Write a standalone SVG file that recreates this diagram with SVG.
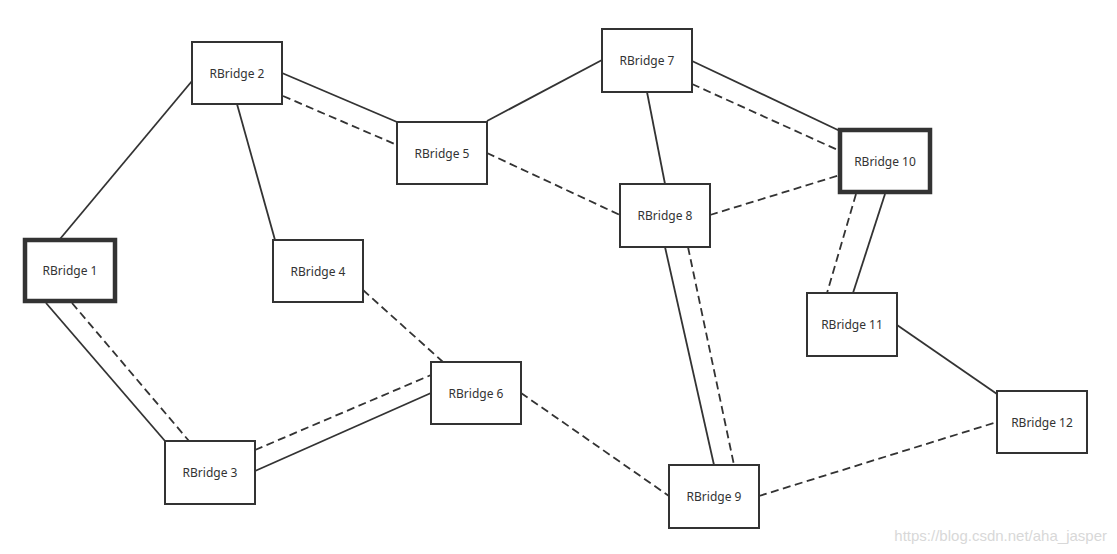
<svg xmlns="http://www.w3.org/2000/svg" width="1117" height="554" viewBox="0 0 1117 554">
<style>
.n rect{fill:#fff;stroke:#333;stroke-width:2}
.n.t rect{stroke-width:4.5}
.n text{font-family:"Noto Sans","DejaVu Sans",sans-serif;font-size:12px;fill:#333;text-anchor:middle;dominant-baseline:central}
#edges line{stroke:#333;stroke-width:1.8;fill:none}
#edges line.d{stroke-dasharray:8 4.5}
.wm{font-family:"Liberation Sans",Arial,sans-serif;font-size:15px;fill:#d8d8d8}
</style>
<rect width="1117" height="554" fill="#fff"/>
<g id="edges">
<line x1="60" y1="239" x2="192" y2="81"/>
<line x1="237" y1="104" x2="275" y2="240"/>
<line x1="282" y1="73" x2="397" y2="122"/>
<line class="d" x1="283" y1="96" x2="397" y2="145"/>
<line x1="487" y1="121" x2="602" y2="60"/>
<line class="d" x1="487" y1="153" x2="620" y2="215"/>
<line x1="647" y1="92" x2="665" y2="184"/>
<line x1="692" y1="61" x2="840" y2="131"/>
<line class="d" x1="692" y1="84" x2="840" y2="151"/>
<line class="d" x1="710" y1="215" x2="840" y2="175"/>
<line x1="885" y1="194" x2="853" y2="293"/>
<line class="d" x1="856" y1="194" x2="827" y2="293"/>
<line x1="897" y1="325" x2="997" y2="394"/>
<line x1="46" y1="303" x2="165" y2="441"/>
<line class="d" x1="72" y1="303" x2="189" y2="441"/>
<line class="d" x1="363" y1="290" x2="443" y2="362"/>
<line x1="255" y1="471" x2="431" y2="393"/>
<line class="d" x1="255" y1="450" x2="431" y2="375"/>
<line class="d" x1="521" y1="393" x2="669" y2="496"/>
<line x1="665" y1="247" x2="714" y2="465"/>
<line class="d" x1="688" y1="247" x2="734" y2="465"/>
<line class="d" x1="759" y1="496" x2="997" y2="422"/>
</g>
<g id="rb1" class="n t"><rect x="25" y="240" width="90" height="61"/><text x="70" y="270.5">RBridge 1</text></g>
<g id="rb2" class="n"><rect x="192" y="42" width="90" height="62"/><text x="237" y="73">RBridge 2</text></g>
<g id="rb3" class="n"><rect x="165" y="441" width="90" height="63"/><text x="210" y="472">RBridge 3</text></g>
<g id="rb4" class="n"><rect x="273" y="240" width="90" height="62"/><text x="318" y="271">RBridge 4</text></g>
<g id="rb5" class="n"><rect x="397" y="122" width="90" height="62"/><text x="442" y="153">RBridge 5</text></g>
<g id="rb6" class="n"><rect x="431" y="362" width="90" height="62"/><text x="476" y="393">RBridge 6</text></g>
<g id="rb7" class="n"><rect x="602" y="29" width="90" height="63"/><text x="647" y="60">RBridge 7</text></g>
<g id="rb8" class="n"><rect x="620" y="184" width="90" height="63"/><text x="665" y="215.5">RBridge 8</text></g>
<g id="rb9" class="n"><rect x="669" y="465" width="90" height="63"/><text x="714" y="496">RBridge 9</text></g>
<g id="rb10" class="n t"><rect x="840" y="130" width="90" height="62"/><text x="885" y="161">RBridge 10</text></g>
<g id="rb11" class="n"><rect x="807" y="293" width="90" height="63"/><text x="852" y="324.5">RBridge 11</text></g>
<g id="rb12" class="n"><rect x="997" y="391" width="90" height="62"/><text x="1042" y="422">RBridge 12</text></g>
<text class="wm" x="1107" y="541" text-anchor="end">https://blog.csdn.net/aha_jasper</text>
</svg>
